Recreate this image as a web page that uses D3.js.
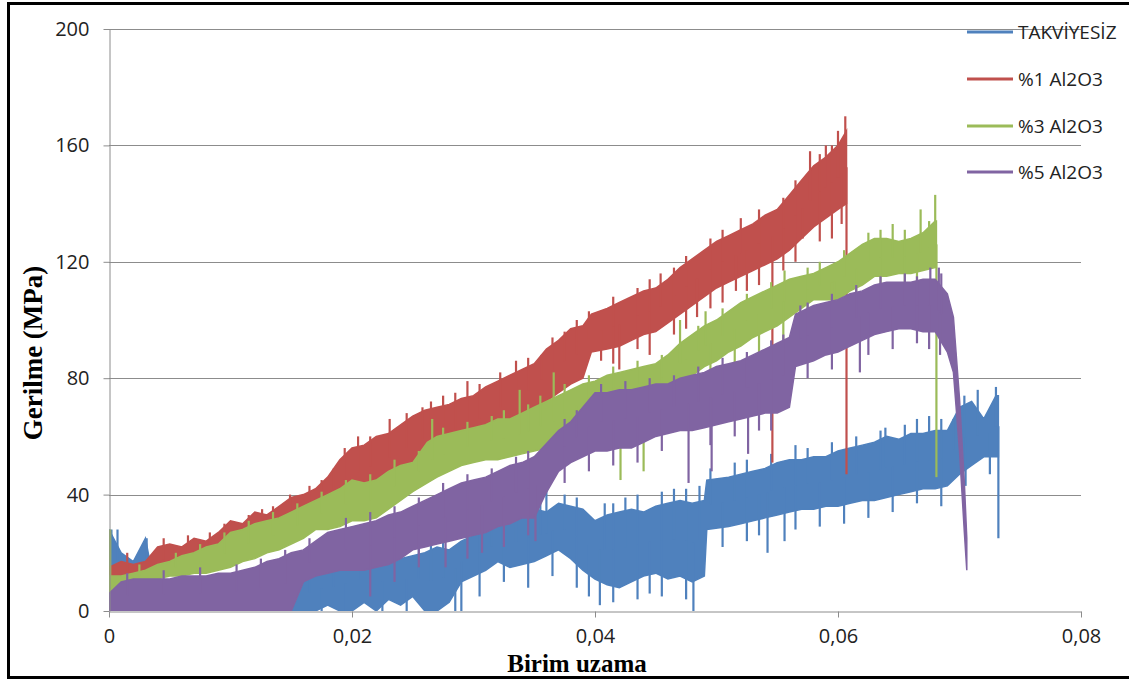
<!DOCTYPE html>
<html>
<head>
<meta charset="utf-8">
<script src="https://cdn.jsdelivr.net/npm/d3@7"></script>
<style>
  body { margin: 0; background: #fff; }
  svg { display: block; }
</style>
</head>
<body>
<div id="chart"></div>
<script>
// series names and colours (Excel 2007 palette)
const seriesNames = ["TAKVİYESİZ", "%1 Al2O3", "%3 Al2O3", "%5 Al2O3"];
const seriesColors = ["#4f81bd", "#c0504d", "#9bbb59", "#8064a2"];

// tick values
const xTicks = [0, 0.02, 0.04, 0.06, 0.08];
const yTicks = [0, 40, 80, 120, 160, 200];

// each row: [strain, lower edge of noisy band, upper edge of band] (MPa)
const takviyesiz = [
  [0.000, 14, 28], [0.001, 12, 20], [0.002, 12, 17], [0.003, 12, 25], [0.004, 0, 3],
  [0.015, 0, 3], [0.016, 0, 12], [0.017, 0, 14], [0.018, 2, 15], [0.019, 0, 16],
  [0.020, 0, 22], [0.021, 3, 18], [0.022, 0, 17], [0.023, 4, 19], [0.024, 2, 18],
  [0.025, 5, 19], [0.026, 0, 20], [0.027, 0, 22], [0.028, 3, 21], [0.029, 10, 24],
  [0.030, 12, 26], [0.031, 14, 28], [0.032, 17, 30], [0.033, 15, 31], [0.034, 16, 33],
  [0.035, 17, 35], [0.036, 19, 34], [0.037, 21, 37], [0.038, 18, 36], [0.039, 14, 35],
  [0.040, 11, 31], [0.041, 9, 33], [0.042, 8, 34], [0.043, 10, 35], [0.044, 12, 34],
  [0.045, 13, 36], [0.046, 11, 37], [0.047, 12, 38], [0.048, 10, 37], [0.049, 12, 38],
  [0.0492, 28, 45], [0.051, 29, 46], [0.052, 30, 47], [0.053, 31, 48], [0.054, 32, 49],
  [0.055, 33, 51], [0.056, 34, 52], [0.057, 35, 52], [0.058, 35, 53], [0.059, 36, 53],
  [0.060, 36, 55], [0.061, 37, 56], [0.062, 38, 57], [0.063, 38, 58], [0.064, 39, 60],
  [0.065, 40, 59], [0.066, 41, 61], [0.067, 42, 61], [0.068, 42, 62], [0.069, 43, 62],
  [0.070, 47, 70], [0.071, 50, 72], [0.072, 53, 66], [0.073, 53, 74], [0.0732, 53, 74]
];
const al1 = [
  [0.000, 9, 15], [0.001, 11, 17], [0.002, 11, 16], [0.003, 12, 17], [0.004, 12, 22],
  [0.005, 14, 23], [0.006, 15, 22], [0.007, 16, 25], [0.008, 17, 24], [0.009, 18, 27],
  [0.010, 19, 31], [0.011, 20, 30], [0.012, 21, 34], [0.013, 22, 33], [0.014, 24, 36],
  [0.015, 26, 39], [0.016, 28, 40], [0.017, 30, 42], [0.018, 33, 46], [0.019, 36, 52],
  [0.020, 38, 56], [0.021, 40, 57], [0.022, 42, 60], [0.023, 44, 61], [0.024, 46, 64],
  [0.025, 48, 67], [0.026, 50, 69], [0.027, 51, 70], [0.028, 52, 71], [0.029, 54, 73],
  [0.030, 55, 74], [0.031, 58, 77], [0.032, 60, 79], [0.033, 63, 81], [0.034, 66, 83],
  [0.035, 69, 85], [0.036, 72, 90], [0.037, 75, 93], [0.038, 78, 97], [0.039, 80, 98],
  [0.0397, 89, 102], [0.041, 90, 104], [0.042, 91, 106], [0.043, 93, 108], [0.044, 95, 110],
  [0.045, 96, 111], [0.046, 99, 114], [0.047, 102, 118], [0.048, 105, 121], [0.049, 108, 124],
  [0.050, 111, 127], [0.051, 113, 129], [0.052, 115, 131], [0.053, 117, 133], [0.054, 119, 136],
  [0.055, 121, 138], [0.056, 124, 143], [0.057, 128, 148], [0.058, 132, 153], [0.059, 135, 156],
  [0.060, 138, 160], [0.0607, 140, 165]
];
const al3 = [
  [0.000, 5, 12], [0.001, 9, 12], [0.002, 10, 13], [0.003, 11, 14], [0.004, 11, 16],
  [0.005, 12, 17], [0.006, 12, 19], [0.007, 13, 20], [0.008, 13, 22], [0.009, 14, 23],
  [0.010, 15, 27], [0.011, 17, 28], [0.012, 18, 30], [0.013, 20, 31], [0.014, 21, 32],
  [0.015, 23, 34], [0.016, 25, 36], [0.017, 28, 38], [0.018, 28, 40], [0.019, 29, 42],
  [0.020, 31, 45], [0.021, 31, 44], [0.022, 32, 45], [0.023, 35, 48], [0.024, 38, 50],
  [0.025, 41, 51], [0.0262, 44, 58], [0.027, 46, 60], [0.028, 48, 61], [0.029, 50, 62],
  [0.030, 51, 63], [0.031, 52, 64], [0.032, 52, 66], [0.033, 53, 66], [0.034, 54, 68],
  [0.035, 55, 70], [0.036, 56, 72], [0.037, 58, 74], [0.038, 62, 76], [0.039, 66, 78],
  [0.040, 70, 79], [0.041, 71, 81], [0.042, 72, 82], [0.043, 72, 83], [0.044, 73, 84],
  [0.045, 73, 85], [0.046, 75, 88], [0.047, 78, 92], [0.048, 81, 95], [0.049, 84, 98],
  [0.050, 86, 100], [0.051, 89, 103], [0.052, 91, 106], [0.053, 94, 108], [0.054, 96, 110],
  [0.055, 98, 112], [0.056, 101, 114], [0.057, 104, 115], [0.058, 107, 116], [0.059, 107, 118],
  [0.060, 107, 120], [0.061, 110, 123], [0.062, 112, 126], [0.063, 115, 128], [0.064, 115, 128],
  [0.065, 116, 127], [0.066, 116, 128], [0.067, 117, 130], [0.068, 118, 134], [0.0681, 118, 134]
];
const al5 = [
  [0.000, 0, 6], [0.001, 0, 10], [0.002, 0, 11], [0.003, 0, 11], [0.004, 0, 11],
  [0.005, 0, 11], [0.006, 0, 12], [0.007, 0, 12], [0.008, 0, 12], [0.009, 0, 13],
  [0.010, 0, 13], [0.011, 0, 14], [0.012, 0, 15], [0.013, 0, 17], [0.014, 0, 18],
  [0.015, 0, 20], [0.016, 10, 21], [0.017, 12, 24], [0.018, 13, 27], [0.019, 14, 28],
  [0.020, 14, 29], [0.021, 14, 30], [0.022, 15, 31], [0.023, 16, 33], [0.024, 18, 34],
  [0.025, 21, 36], [0.026, 22, 38], [0.027, 23, 40], [0.028, 24, 42], [0.029, 25, 44],
  [0.030, 26, 45], [0.031, 27, 46], [0.032, 29, 48], [0.033, 30, 50], [0.034, 32, 51],
  [0.035, 32, 53], [0.0359, 40, 57], [0.037, 48, 62], [0.038, 51, 65], [0.039, 53, 70],
  [0.040, 55, 75], [0.041, 55, 75], [0.042, 56, 76], [0.043, 56, 76], [0.044, 58, 77],
  [0.045, 60, 78], [0.046, 61, 78], [0.047, 62, 80], [0.048, 62, 81], [0.049, 63, 82],
  [0.050, 64, 84], [0.051, 65, 85], [0.052, 66, 86], [0.053, 67, 88], [0.054, 68, 90],
  [0.055, 68, 92], [0.056, 70, 94], [0.0565, 84, 102], [0.058, 86, 105], [0.059, 88, 106],
  [0.060, 89, 107], [0.061, 91, 109], [0.062, 93, 110], [0.063, 95, 112], [0.064, 96, 113],
  [0.065, 97, 113], [0.066, 97, 113], [0.067, 96, 114], [0.068, 96, 114], [0.069, 89, 109],
  [0.0695, 82, 101], [0.070, 55, 73], [0.0704, 27, 44], [0.0706, 14, 25]
];
const seriesRows = [takviyesiz, al1, al3, al5];

// stand-out spikes along the band edges: [strain, tip value]
const takviyesizSpikes = [
  [0.0002, 28], [0.0007, 28], [0.0031, 25], [0.0290, 0], [0.0324, 36], [0.0360, 42],
  [0.0404, 2], [0.0408, 37], [0.0481, 0], [0.0486, 43], [0.0542, 20], [0.0556, 24],
  [0.0639, 63], [0.0675, 67], [0.0704, 74], [0.0725, 47], [0.0730, 77], [0.0732, 25],
  [0.0165, 16], [0.0185, 19], [0.0205, 25], [0.0215, 22], [0.0235, 23], [0.0255, 24],
  [0.0265, 26], [0.0275, 27], [0.0295, 28], [0.0305, 31], [0.0315, 33], [0.0335, 35],
  [0.0345, 38], [0.0355, 39], [0.0375, 40], [0.0385, 39], [0.0415, 37], [0.0425, 39],
  [0.0435, 40], [0.0455, 41], [0.0465, 42], [0.0475, 42], [0.0495, 49], [0.0515, 51],
  [0.0525, 52], [0.0545, 54], [0.0565, 57], [0.0575, 56], [0.0595, 58], [0.0615, 60],
  [0.0635, 62], [0.0655, 64], [0.0665, 66], [0.0685, 66], [0.0695, 66], [0.0715, 76],
  [0.0175, 0], [0.0195, 0], [0.0225, 0], [0.0245, 0], [0.0285, 0], [0.0305, 5],
  [0.0325, 10], [0.0345, 8], [0.0365, 12], [0.0385, 8], [0.0395, 5], [0.0415, 3],
  [0.0435, 4], [0.0445, 6], [0.0455, 5], [0.0475, 4], [0.0505, 22], [0.0525, 24],
  [0.0535, 26], [0.0565, 28], [0.0585, 29], [0.0605, 30], [0.0625, 32], [0.0645, 34],
  [0.0665, 37], [0.0685, 36], [0.0705, 43]
];
const al1Spikes = [
  [0.0083, 27], [0.0126, 35], [0.0149, 40], [0.0194, 56], [0.0231, 66], [0.0258, 70],
  [0.0295, 79], [0.0322, 82], [0.0356, 88], [0.0385, 100], [0.0420, 83], [0.0454, 116],
  [0.0484, 101], [0.0516, 110], [0.0520, 135], [0.0546, 51], [0.0571, 128], [0.0577, 158],
  [0.0590, 160], [0.0600, 165], [0.0606, 170], [0.0607, 47],
  [0.0015, 20], [0.0045, 25], [0.0065, 26], [0.0095, 30], [0.0115, 33], [0.0135, 36],
  [0.0165, 43], [0.0175, 45], [0.0185, 49], [0.0205, 60], [0.0215, 60], [0.0245, 68],
  [0.0265, 72], [0.0275, 74], [0.0285, 75], [0.0305, 78], [0.0335, 86], [0.0345, 87],
  [0.0365, 94], [0.0375, 96], [0.0395, 103], [0.0415, 108], [0.0435, 111], [0.0445, 114],
  [0.0465, 118], [0.0475, 122], [0.0495, 128], [0.0505, 131], [0.0535, 138], [0.0555, 142],
  [0.0565, 148], [0.0585, 157], [0.0595, 160],
  [0.0405, 86], [0.0415, 85], [0.0435, 90], [0.0445, 88], [0.0465, 95], [0.0475, 97],
  [0.0495, 104], [0.0505, 106], [0.0525, 110], [0.0535, 112], [0.0555, 117], [0.0565, 120],
  [0.0585, 127], [0.0595, 128], [0.0603, 133]
];
const al3Spikes = [
  [0.0001, 28], [0.0266, 66], [0.0338, 76], [0.0366, 82], [0.0402, 55], [0.0421, 45],
  [0.0440, 48], [0.0470, 100], [0.0491, 103], [0.0556, 117], [0.0597, 101], [0.0645, 133],
  [0.0668, 138], [0.0680, 143], [0.0681, 46],
  [0.0025, 16], [0.0055, 20], [0.0075, 23], [0.0095, 27], [0.0115, 31], [0.0135, 34],
  [0.0155, 37], [0.0175, 41], [0.0195, 45], [0.0215, 47], [0.0235, 52], [0.0255, 55],
  [0.0275, 63], [0.0295, 65], [0.0315, 67], [0.0325, 69], [0.0345, 71], [0.0355, 74],
  [0.0375, 78], [0.0395, 81], [0.0415, 84], [0.0435, 86], [0.0455, 88], [0.0485, 98],
  [0.0505, 104], [0.0525, 109], [0.0545, 113], [0.0575, 118], [0.0585, 120], [0.0605, 124],
  [0.0625, 130], [0.0635, 131], [0.0655, 131], [0.0675, 134],
  [0.0385, 58], [0.0395, 60], [0.0415, 62], [0.0455, 66], [0.0475, 72], [0.0495, 78],
  [0.0515, 82], [0.0535, 88], [0.0555, 92], [0.0575, 98], [0.0595, 100], [0.0615, 104],
  [0.0635, 108], [0.0655, 110], [0.0665, 112]
];
const al5Spikes = [
  [0.0277, 15], [0.0307, 20], [0.0351, 24], [0.0477, 44], [0.0496, 48], [0.0526, 54],
  [0.0569, 105], [0.0618, 82], [0.0665, 115], [0.0676, 118], [0.0683, 118], [0.0684, 88],
  [0.0015, 13], [0.0045, 14], [0.0075, 15], [0.0105, 16], [0.0125, 18], [0.0145, 21],
  [0.0165, 25], [0.0195, 32], [0.0215, 34], [0.0235, 36], [0.0255, 39], [0.0275, 44],
  [0.0295, 47], [0.0315, 49], [0.0335, 53], [0.0345, 55], [0.0375, 66], [0.0385, 69],
  [0.0405, 78], [0.0425, 79], [0.0445, 80], [0.0465, 81], [0.0485, 84], [0.0505, 87],
  [0.0525, 89], [0.0545, 93], [0.0555, 95], [0.0575, 106], [0.0595, 109], [0.0615, 112],
  [0.0635, 115], [0.0655, 116], [0.0685, 116],
  [0.0215, 5], [0.0235, 10], [0.0255, 15], [0.0295, 18], [0.0325, 22], [0.0345, 26],
  [0.0375, 44], [0.0395, 48], [0.0415, 50], [0.0435, 51], [0.0455, 55], [0.0495, 57],
  [0.0515, 60], [0.0535, 62], [0.0545, 62], [0.0575, 80], [0.0595, 83], [0.0625, 88],
  [0.0645, 90], [0.0665, 92], [0.0675, 90]
];
const seriesSpikes = [takviyesizSpikes, al1Spikes, al3Spikes, al5Spikes];

const width = 1129, height = 681;
const svg = d3.select("#chart").append("svg")
    .attr("width", width)
    .attr("height", height)
    .style("font-family", "'Open Sans', sans-serif");

const x = d3.scaleLinear().domain([0, 0.08]).range([109, 1081]);
const y = d3.scaleLinear().domain([0, 200]).range([611, 29]);

// outer frame
svg.append("rect")
    .attr("x", 8.5).attr("y", 3.5)
    .attr("width", 1130).attr("height", 674)
    .attr("fill", "none")
    .attr("stroke", "#000")
    .attr("stroke-width", 3);

// horizontal gridlines
svg.append("g")
    .selectAll("line")
    .data(yTicks.filter(d => d > 0))
    .enter()
    .append("line")
    .attr("x1", x(0)).attr("x2", x(0.08))
    .attr("y1", d => Math.round(y(d)) + 0.5)
    .attr("y2", d => Math.round(y(d)) + 0.5)
    .attr("stroke", "#8c8c8c")
    .attr("stroke-width", 1);

// series: noisy band + spikes
const band = d3.area()
    .x(d => x(d[0]))
    .y0(d => y(d[1]))
    .y1(d => y(d[2]));

svg.append("clipPath").attr("id", "plotclip")
    .append("rect").attr("x", x(0)).attr("y", 0).attr("width", x(0.08) - x(0)).attr("height", y(0));

const plot = svg.append("g").attr("clip-path", "url(#plotclip)");

seriesRows.forEach((rows, i) => {
    const col = seriesColors[i];
    plot.append("path")
        .datum(rows)
        .attr("d", band)
        .attr("fill", col)
        .attr("stroke", col)
        .attr("stroke-width", 1.5);

    // band centre at a given strain, to hang each spike from
    const xs = rows.map(r => r[0]);
    const mid = d3.scaleLinear().domain(xs).range(rows.map(r => (r[1] + r[2]) / 2)).clamp(true);
    plot.append("g")
        .selectAll("line")
        .data(seriesSpikes[i])
        .enter()
        .append("line")
        .attr("x1", d => x(d[0])).attr("x2", d => x(d[0]))
        .attr("y1", d => y(mid(d[0])))
        .attr("y2", d => y(d[1]))
        .attr("stroke", col)
        .attr("stroke-width", 2.2);
});

// axes
const yAxis = svg.append("g")
    .attr("transform", `translate(${x(0) + 0.5},0)`)
    .call(d3.axisLeft(y).tickValues(yTicks).tickSize(6).tickSizeOuter(0).tickPadding(14).tickFormat(d3.format("d")));
const xAxis = svg.append("g")
    .attr("transform", `translate(0,${y(0) + 0.5})`)
    .call(d3.axisBottom(x).tickValues(xTicks).tickSize(6).tickSizeOuter(0)
        .tickFormat(d => d === 0 ? "0" : d3.format(".2f")(d).replace(".", ",")));

[yAxis, xAxis].forEach(a => {
    a.select(".domain").attr("stroke", "#8c8c8c");
    a.selectAll(".tick line").attr("stroke", "#8c8c8c");
    a.selectAll(".tick text")
        .attr("fill", "#222")
        .style("font-family", "'Open Sans', sans-serif")
        .style("font-size", "20px");
});
xAxis.selectAll(".tick text").attr("y", 17);

// axis titles
svg.append("text")
    .attr("x", 577).attr("y", 672)
    .attr("text-anchor", "middle")
    .style("font-family", "'Liberation Serif', serif")
    .style("font-weight", "bold")
    .style("font-size", "25px")
    .text("Birim uzama");

svg.append("text")
    .attr("transform", "translate(42,353) rotate(-90)")
    .attr("text-anchor", "middle")
    .style("font-family", "'Liberation Serif', serif")
    .style("font-weight", "bold")
    .style("font-size", "27px")
    .text("Gerilme (MPa)");

// legend
const legendY = [32, 79, 126, 172];
const legend = svg.append("g");
seriesNames.forEach((name, i) => {
    legend.append("line")
        .attr("x1", 967).attr("x2", 1013)
        .attr("y1", legendY[i]).attr("y2", legendY[i])
        .attr("stroke", seriesColors[i])
        .attr("stroke-width", 3);
    legend.append("text")
        .attr("x", 1018).attr("y", legendY[i])
        .attr("dy", "0.35em")
        .attr("fill", "#222")
        .style("font-size", "19px")
        .text(name);
});
</script>
</body>
</html>
